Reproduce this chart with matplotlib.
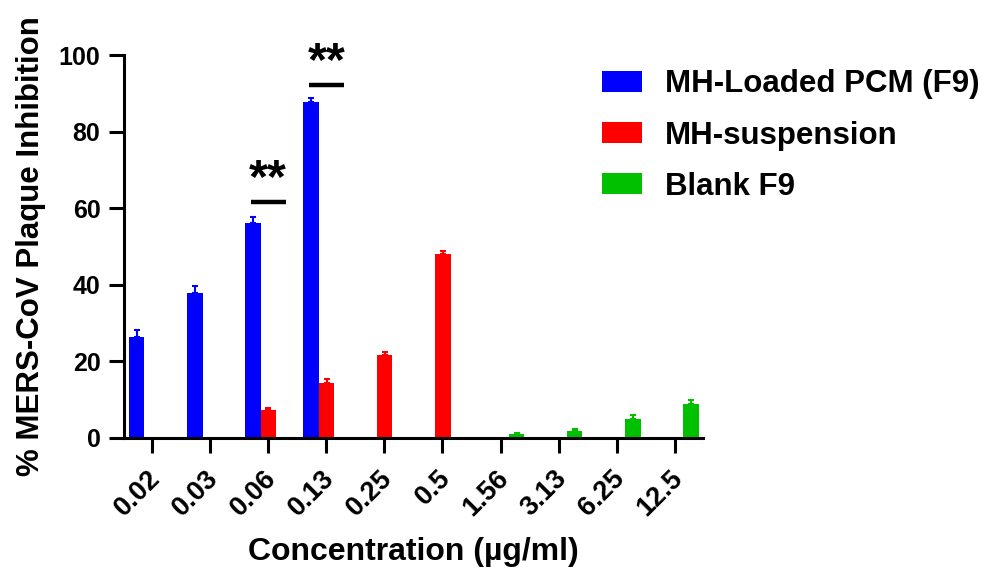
import matplotlib
matplotlib.use("Agg")
import matplotlib.pyplot as plt
import matplotlib.transforms as mtransforms
import numpy as np

plt.rcParams['font.family'] = ['Liberation Sans', 'DejaVu Sans']
plt.rcParams['font.weight'] = 'bold'

concentrations = ['0.02', '0.03', '0.06', '0.13', '0.25', '0.5', '1.56', '3.13', '6.25', '12.5']
series_names = ['MH-Loaded PCM (F9)', 'MH-suspension', 'Blank F9']
colors = ['#0000FF', '#FF0000', '#00C000']

nan = np.nan
loaded_pcm = [26.3, 37.9, 56.1, 87.8, nan, nan, nan, nan, nan, nan]
loaded_pcm_err = [1.9, 1.8, 1.5, 1.0, nan, nan, nan, nan, nan, nan]
suspension = [nan, nan, 7.3, 14.4, 21.7, 48.0, nan, nan, nan, nan]
suspension_err = [nan, nan, 0.5, 1.1, 0.7, 0.7, nan, nan, nan, nan]
blank = [nan, nan, nan, nan, nan, nan, 0.9, 1.9, 4.9, 8.8]
blank_err = [nan, nan, nan, nan, nan, nan, 0.4, 0.5, 1.0, 1.1]

# significance marks: (category index, bar height, label)
sig_marks = [(2, 61.5, '**'), (3, 92.3, '**')]

values = [loaded_pcm, suspension, blank]
errors = [loaded_pcm_err, suspension_err, blank_err]

fig = plt.figure(figsize=(9.85, 5.68), dpi=100)
ax = fig.add_axes([0.126, 0.229, 0.588, 0.674])

x = np.arange(len(concentrations))
width = 0.27
for k in range(3):
    v = np.array(values[k], dtype=float)
    e = np.array(errors[k], dtype=float)
    pos = x + (k - 1) * width + 0.005
    mask = ~np.isnan(v)
    ax.bar(pos[mask], v[mask], width, color=colors[k], label=series_names[k])
    ax.errorbar(pos[mask], v[mask], yerr=[np.zeros(mask.sum()), e[mask]],
                fmt='none', ecolor=colors[k], elinewidth=1.5, capsize=2.5,
                capthick=1.5)

for idx, h, lab in sig_marks:
    ax.plot([idx - 0.3, idx + 0.3], [h, h], color='black', lw=3.2,
            solid_capstyle='butt', clip_on=False)
    ax.text(idx, h, lab, ha='center', va='bottom', fontsize=35,
            fontweight='bold', clip_on=False)

ax.set_xlim(-0.48, 9.49)
ax.set_ylim(0, 100)
ax.set_yticks([0, 20, 40, 60, 80, 100])
ax.set_xticks(x)
ax.set_xticklabels(concentrations, rotation=45, ha='right',
                   rotation_mode='anchor')
ax.tick_params(axis='both', width=2.2, length=11)
ax.tick_params(axis='y', pad=6, labelsize=18)
ax.tick_params(axis='x', pad=8, labelsize=19.5)
shift = mtransforms.ScaledTranslation(-5 / 100, -1 / 100, fig.dpi_scale_trans)
for lbl in ax.get_xticklabels():
    lbl.set_transform(lbl.get_transform() + shift)
for s in ['top', 'right']:
    ax.spines[s].set_visible(False)
for s in ['left', 'bottom']:
    ax.spines[s].set_linewidth(2.2)

ax.set_xlabel('Concentration (µg/ml)', fontsize=23, fontweight='bold')
ax.set_ylabel('% MERS-CoV Plaque Inhibition', fontsize=22.5, fontweight='bold')
ax.xaxis.set_label_coords(0.5, -0.258)
ax.yaxis.set_label_coords(-0.135, 0.5)

fig.legend(loc='upper left', bbox_to_anchor=(0.611, 0.878), frameon=False,
           fontsize=22.5, handlelength=1.3, handleheight=0.64,
           handletextpad=0.72, labelspacing=0.68, borderpad=0,
           borderaxespad=0)

fig.savefig('out.png', dpi=100)
